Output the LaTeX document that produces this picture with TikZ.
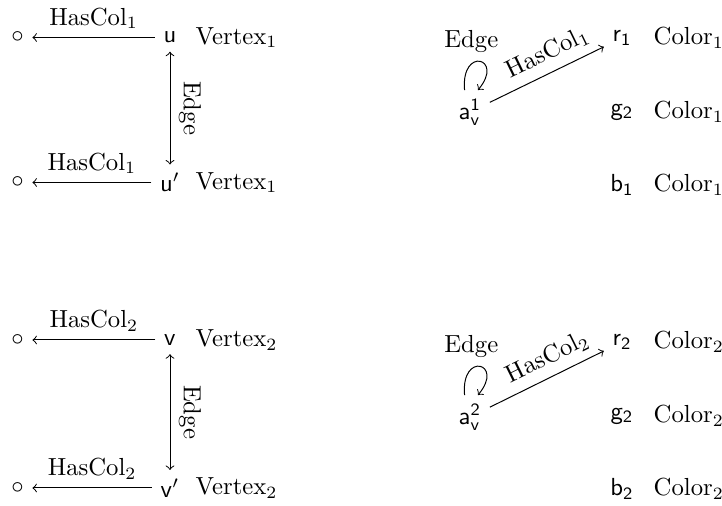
\documentclass[tikz,border=0pt]{standalone}
\usepackage{amsmath}
\begin{document}
\begin{tikzpicture}[x=0.405pt,y=-0.405pt,
  obj/.style={},
  lbl/.style={anchor=west},
  rel/.style={->}]
\useasboundingbox (0,0) rectangle (722,506);
% ---- top left
\node[obj] (c1) at (17.5,37.5) {$\circ$};
\node[obj] (u) at (170,37.5) {$\mathsf{u}$};
\node[lbl] (vu) at (187,37.5) {Vertex$_1$};
\node[obj] (c2) at (17.5,182.5) {$\circ$};
\node[obj] (up) at (170,182.5) {$\mathsf{u}'$};
\node[lbl] (vup) at (187,182.5) {Vertex$_1$};
\draw[rel] (u) -- node[above]{HasCol$_1$} (c1);
\draw[rel] (up) -- node[above]{HasCol$_1$} (c2);
\draw[<->] (u) -- node[above,sloped]{Edge} (up);
% ---- bottom left
\node[obj] (c3) at (17.5,340) {$\circ$};
\node[obj] (v) at (170,340) {$\mathsf{v}$};
\node[lbl] (vv) at (187,340) {Vertex$_2$};
\node[obj] (c4) at (17.5,488) {$\circ$};
\node[obj] (vp) at (170,488) {$\mathsf{v}'$};
\node[lbl] (vvp) at (187,488) {Vertex$_2$};
\draw[rel] (v) -- node[above]{HasCol$_2$} (c3);
\draw[rel] (vp) -- node[above]{HasCol$_2$} (c4);
\draw[<->] (v) -- node[above,sloped]{Edge} (vp);
% ---- top right
\node[obj] (a1) at (470,112) {$\mathsf{a_v^1}$};
\node[obj] (r1) at (622,38) {$\mathsf{r_1}$};
\node[obj] (g1) at (622,112) {$\mathsf{g_2}$};
\node[obj] (b1) at (622,185) {$\mathsf{b_1}$};
\node[lbl] (cr1) at (645,38) {Color$_1$};
\node[lbl] (cg1) at (645,112) {Color$_1$};
\node[lbl] (cb1) at (645,185) {Color$_1$};
\draw[rel] (a1) -- node[pos=0.58,above,sloped]{HasCol$_1$} (r1);
\draw[rel] ([xshift=-2.2pt]a1.north) .. controls +(95:18pt) and +(50:17pt) .. node[pos=0.42,above,xshift=-2pt]{Edge} ([xshift=3.2pt]a1.north);
% ---- bottom right
\node[obj] (a2) at (470,417) {$\mathsf{a_v^2}$};
\node[obj] (r2) at (622,342) {$\mathsf{r_2}$};
\node[obj] (g2) at (622,416) {$\mathsf{g_2}$};
\node[obj] (b2) at (622,489) {$\mathsf{b_2}$};
\node[lbl] (cr2) at (645,342) {Color$_2$};
\node[lbl] (cg2) at (645,416) {Color$_2$};
\node[lbl] (cb2) at (645,489) {Color$_2$};
\draw[rel] (a2) -- node[pos=0.58,above,sloped]{HasCol$_2$} (r2);
\draw[rel] ([xshift=-2.2pt]a2.north) .. controls +(95:18pt) and +(50:17pt) .. node[pos=0.42,above,xshift=-2pt]{Edge} ([xshift=3.2pt]a2.north);
\end{tikzpicture}
\end{document}
